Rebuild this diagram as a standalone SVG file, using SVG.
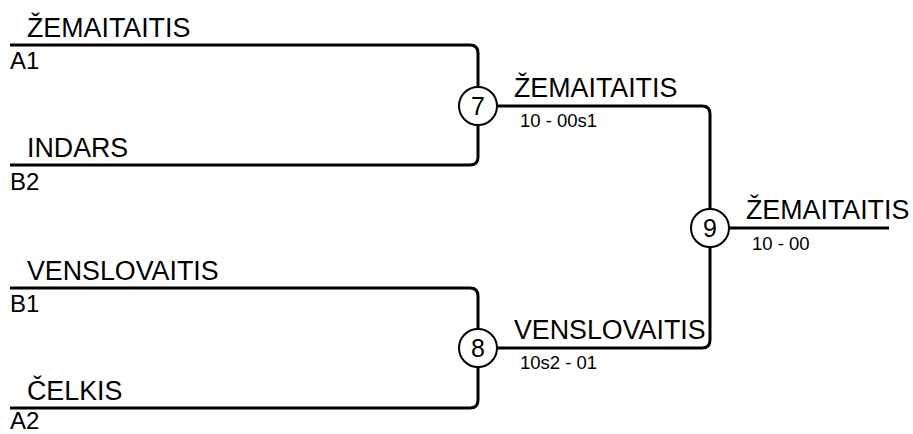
<svg xmlns="http://www.w3.org/2000/svg" width="913" height="434" viewBox="0 0 913 434">
<style>
.ln{fill:none;stroke:#000;stroke-width:3;stroke-linejoin:round}
.nd{fill:#fff;stroke:#000;stroke-width:2}
.nm{font-family:"Liberation Sans",Arial,sans-serif;font-size:26.8px;fill:#000}
.sd{font-family:"Liberation Sans",Arial,sans-serif;font-size:24px;fill:#000}
.sc{font-family:"Liberation Sans",Arial,sans-serif;font-size:18.5px;fill:#000}
.num{font-family:"Liberation Sans",Arial,sans-serif;font-size:25px;fill:#000;text-anchor:middle}
</style>
<rect width="913" height="434" fill="#fff"/>
<g id="connectors">
<path class="ln" d="M10,45 H470 Q478,45 478,53 V157 Q478,165 470,165 H10"/>
<path class="ln" d="M10,288 H470 Q478,288 478,296 V400 Q478,408 470,408 H10"/>
<path class="ln" d="M478,106 H702 Q710,106 710,114 V340 Q710,348 702,348 H478"/>
<path class="ln" d="M710,228 H889"/>
</g>
<g id="entry-a1"><text class="nm" x="27" y="37">ŽEMAITAITIS</text><text class="sd" x="10" y="69">A1</text></g>
<g id="entry-b2"><text class="nm" x="27" y="157">INDARS</text><text class="sd" x="10" y="190">B2</text></g>
<g id="entry-b1"><text class="nm" x="27" y="280">VENSLOVAITIS</text><text class="sd" x="10" y="312">B1</text></g>
<g id="entry-a2"><text class="nm" x="27" y="400">ČELKIS</text><text class="sd" x="10" y="429">A2</text></g>
<g id="match-7"><circle class="nd" cx="478" cy="106" r="19"/><text class="num" x="478" y="115">7</text>
<text class="nm" x="514" y="97">ŽEMAITAITIS</text><text class="sc" x="520" y="127">10 - 00s1</text></g>
<g id="match-8"><circle class="nd" cx="478" cy="348" r="19"/><text class="num" x="478" y="357">8</text>
<text class="nm" x="514" y="339">VENSLOVAITIS</text><text class="sc" x="520" y="369">10s2 - 01</text></g>
<g id="match-9"><circle class="nd" cx="710" cy="228" r="19"/><text class="num" x="710" y="237">9</text>
<text class="nm" x="746" y="219">ŽEMAITAITIS</text><text class="sc" x="752" y="250">10 - 00</text></g>
</svg>
